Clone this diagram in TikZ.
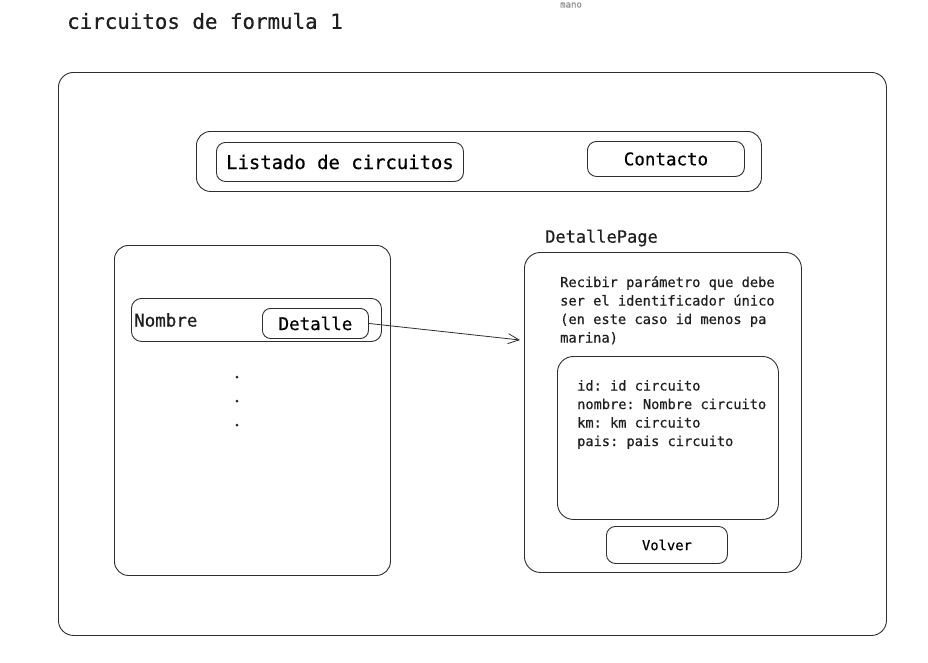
\documentclass[tikz,border=0pt]{standalone}
\usepackage{fontspec}
\setmonofont[FakeBold=0.5]{DejaVu Sans Mono}
\usetikzlibrary{arrows.meta}

\tikzset{
  caja/.style={draw=black!82, line width=0.9pt, inner sep=0pt, anchor=north west},
  texto/.style={inner sep=0pt, text=black!88},
}
\newcommand{\tam}[1]{\ttfamily\fontsize{#1}{#1}\selectfont}

\begin{document}
\begin{tikzpicture}[x=1pt,y=1pt,yscale=-1,xscale=1]
\useasboundingbox (0,0) rectangle (928,662);

% Text Node
\node [texto, anchor=base, text=black!45, font=\tam{9}] (mano) at (571,7.5) {mano};
% Text Node
\node [texto, anchor=west, font=\tam{20.8}] (titulo) at (67,21) {circuitos de formula 1};

%Shape: Rectangle
\node [caja, rounded corners=15pt, minimum width=828, minimum height=563] (marco) at (58,72) {};

%Shape: Rectangle (menu)
\node [caja, rounded corners=14pt, minimum width=565, minimum height=60] (menu) at (196,131) {};
\node [caja, rounded corners=9pt, minimum width=247, minimum height=39, font=\tam{18.9}] (listado) at (216,142) {Listado de circuitos};
\node [caja, rounded corners=9pt, minimum width=157, minimum height=35, font=\tam{17.5}] (contacto) at (587,141) {Contacto};

%Shape: Rectangle (listado)
\node [caja, rounded corners=14pt, minimum width=276, minimum height=330] (lista) at (114,245) {};
\node [caja, rounded corners=10pt, minimum width=250, minimum height=43] (fila) at (131,298) {};
% Text Node
\node [texto, anchor=west, font=\tam{17.5}] (nombre) at (134,320) {Nombre};
\node [caja, rounded corners=8pt, minimum width=106, minimum height=30, font=\tam{17.5}] (detalle) at (262,308) {Detalle};
% puntos
\fill [black!85] (237,377) circle (1.5) (237,401) circle (1.5) (237,425) circle (1.5);

% Text Node
\node [texto, anchor=west, font=\tam{17}] (titpagina) at (545,238) {DetallePage};
%Shape: Rectangle (pagina)
\node [caja, rounded corners=16pt, minimum width=277, minimum height=320] (pagina) at (524,252) {};

% Text Node
\node [texto, anchor=base west, font=\tam{13.7}] (parr1) at (560,287) {Recibir parámetro que debe};
\node [texto, anchor=base west, font=\tam{13.7}] (parr2) at (560,305.5) {ser el identificador único};
\node [texto, anchor=base west, font=\tam{13.7}] (parr3) at (560,324) {(en este caso id menos pa};
\node [texto, anchor=base west, font=\tam{13.7}] (parr4) at (560,342.5) {marina)};

%Shape: Rectangle (datos)
\node [caja, rounded corners=16pt, minimum width=221, minimum height=163] (datos) at (557,356) {};
% Text Node
\node [texto, anchor=base west, font=\tam{13.65}] (dato1) at (577,390.5) {id: id circuito};
\node [texto, anchor=base west, font=\tam{13.65}] (dato2) at (577,409) {nombre: Nombre circuito};
\node [texto, anchor=base west, font=\tam{13.65}] (dato3) at (577,427.5) {km: km circuito};
\node [texto, anchor=base west, font=\tam{13.65}] (dato4) at (577,446) {pais: pais circuito};

\node [caja, rounded corners=9pt, minimum width=121, minimum height=37, font=\tam{13.8}] (volver) at (606,526) {Volver};

% flecha
\coordinate (llegada) at (520,340);
\draw [black!82, line width=0.8pt, -{Straight Barb[length=11pt,width=10pt]}] (detalle.east) -- (llegada);

\end{tikzpicture}
\end{document}
